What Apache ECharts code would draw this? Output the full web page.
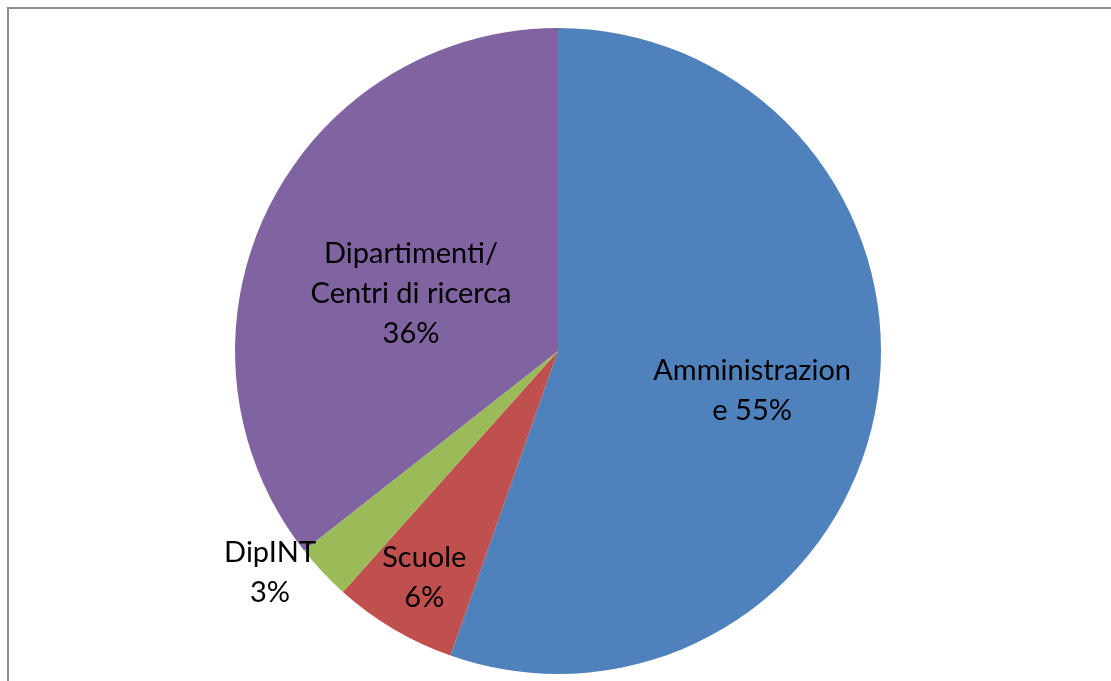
<!DOCTYPE html>
<html><head><meta charset="utf-8">
<script src="https://cdn.jsdelivr.net/npm/echarts@6/dist/echarts.min.js"></script>
<style>html,body{margin:0;padding:0;background:#fff}#c{width:1111px;height:681px}</style>
</head><body><div id="c"></div>
<script>
const categories = ['Amministrazione', 'Scuole', 'DipINT', 'Dipartimenti/ Centri di ricerca'];
const labelLines = ['Amministrazion\ne', 'Scuole\n', 'DipINT\n', 'Dipartimenti/\nCentri di ricerca\n'];
const values = [55.4, 6.2, 2.8, 35.6];
const colors = ['#4F81BD', '#C0504D', '#9BBB59', '#8064A2'];
const labelShift = [[32, 12], [-50, 85], [-168, 109], [1, 15]];

const chart = echarts.init(document.getElementById('c'));
const total = values.reduce((a, b) => a + b, 0);
chart.setOption({
  animation: false,
  graphic: [{type: 'rect', shape: {x: 8, y: 8, width: 1200, height: 800}, style: {fill: 'none', stroke: '#8c8c8c', lineWidth: 2}}],
  series: [{
    type: 'pie',
    center: [558, 351],
    radius: 323,
    startAngle: 90,
    clockwise: true,
    labelLine: {show: false},
    itemStyle: {borderWidth: 0},
    label: {
      position: 'inside',
      fontFamily: 'Lato',
      fontSize: 29,
      lineHeight: 40,
      color: '#000',
      align: 'center',
      formatter: p => labelLines[p.dataIndex] + (labelLines[p.dataIndex].endsWith('\n') ? '' : ' ') + Math.round(p.value / total * 100) + '%'
    },
    labelLayout: p => ({dx: labelShift[p.dataIndex][0], dy: labelShift[p.dataIndex][1]}),
    data: categories.map((n, i) => ({
      name: n, value: values[i], itemStyle: {color: colors[i]}
    }))
  }]
});
</script></body></html>
